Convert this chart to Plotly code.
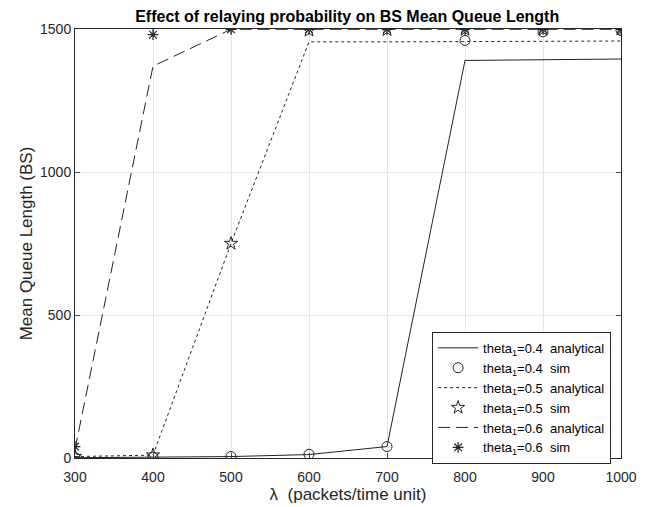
import plotly.graph_objects as go

lam = [300, 400, 500, 600, 700, 800, 900, 1000]

a04 = [1, 2, 5, 12, 40, 1390, 1392, 1395]
s04 = [1, 3, 5, 13, 40, 1460, 1490, 1495]
a05 = [5, 10, 750, 1455, 1455, 1455, 1457, 1458]
s05 = [5, 10, 750, 1495, 1497, 1498, 1498, 1499]
a06 = [30, 1370, 1499, 1499, 1499, 1499, 1499, 1499]
s06 = [40, 1480, 1499, 1499, 1499, 1499, 1499, 1499]

names = ["theta<sub>1</sub>=0.4  analytical", "theta<sub>1</sub>=0.4  sim",
         "theta<sub>1</sub>=0.5  analytical", "theta<sub>1</sub>=0.5  sim",
         "theta<sub>1</sub>=0.6  analytical", "theta<sub>1</sub>=0.6  sim"]

fig = go.Figure()
col = "#222222"
fig.add_trace(go.Scatter(x=lam, y=a04, mode="lines", name=names[0],
                         line=dict(color=col, width=1, dash="solid")))
fig.add_trace(go.Scatter(x=lam, y=s04, mode="markers", name=names[1],
                         marker=dict(symbol="circle-open", size=10, color=col, line=dict(width=1))))
fig.add_trace(go.Scatter(x=lam, y=a05, mode="lines", name=names[2],
                         line=dict(color=col, width=1, dash="dot")))
fig.add_trace(go.Scatter(x=lam, y=s05, mode="markers", name=names[3],
                         marker=dict(symbol="star-open", size=10, color=col, line=dict(width=1))))
fig.add_trace(go.Scatter(x=lam, y=a06, mode="lines", name=names[4],
                         line=dict(color=col, width=1, dash="12px,6px")))
fig.add_trace(go.Scatter(x=lam, y=s06, mode="markers", name=names[5],
                         marker=dict(symbol="asterisk-open", size=9, color=col, line=dict(width=1.2))))

fig.update_layout(
    width=640, height=499,
    margin=dict(l=67, r=27, t=21, b=49, autoexpand=False),
    paper_bgcolor="white", plot_bgcolor="white",
    font=dict(family="Liberation Sans, Arial, sans-serif", size=14, color="#262626"),
    title=dict(text="<b>Effect of relaying probability on BS Mean Queue Length</b>",
               x=0.530, xanchor="center", y=0.983, yanchor="middle",
               font=dict(size=16, color="#000000")),
    showlegend=True,
    legend=dict(x=0.654, y=0.294, xanchor="left", yanchor="top",
                bgcolor="white", bordercolor="#262626", borderwidth=1,
                font=dict(size=13, color="#000000"), tracegroupgap=0,
                itemwidth=40),
    xaxis=dict(range=[300, 1000], tickvals=lam, ticks="inside", ticklen=5,
               ticklabelstandoff=6,
               showgrid=True, gridcolor="#e6e6e6", zeroline=False, automargin=False,
               showline=True, linecolor="#262626", mirror="ticks",
               title=dict(text="λ  (packets/time unit)", standoff=4),
               tickfont=dict(size=14)),
    yaxis=dict(range=[0, 1500], tickvals=[0, 500, 1000, 1500], ticks="inside", ticklen=5,
               showgrid=True, gridcolor="#e6e6e6", zeroline=False, automargin=False,
               showline=True, linecolor="#262626", mirror="ticks",
               title=dict(text="Mean Queue Length (BS)", standoff=3),
               tickfont=dict(size=14)),
)
fig.write_html("out.html")
